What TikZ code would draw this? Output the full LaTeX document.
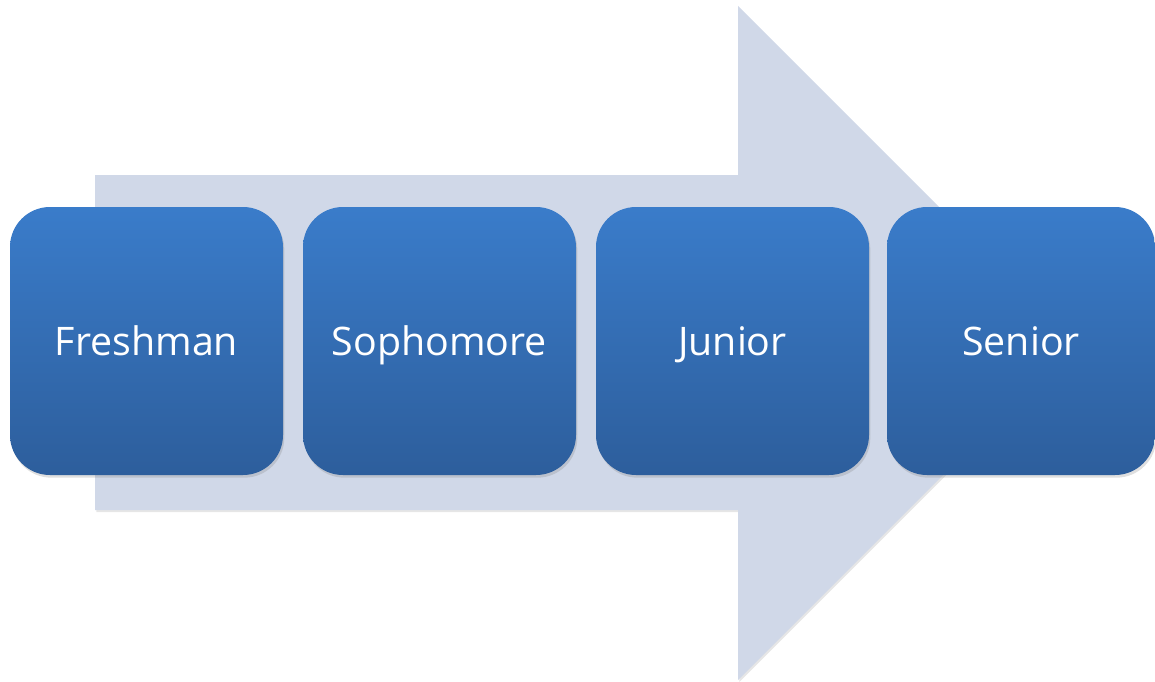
\documentclass[tikz,border=0pt]{standalone}
\usepackage{fontspec}
\setmainfont{Open Sans}
\usetikzlibrary{positioning,shadows}
\definecolor{arrowfill}{HTML}{D0D8E8}
\definecolor{stagetop}{HTML}{3A7CCA}
\definecolor{stagebottom}{HTML}{2D5E9C}
\tikzset{
    x=0.75pt,
    y=-0.75pt,
    stage/.style = {
        shape=rectangle,
        rounded corners=30pt,
        minimum height=201pt,
        minimum width=204.75pt,
        inner sep=0pt,
        top color=stagetop,
        bottom color=stagebottom,
        text=white,
        font=\fontsize{29.5}{32}\selectfont,
        text height=21pt,
        text depth=0pt,
        drop shadow={shadow xshift=1pt, shadow yshift=-2pt, opacity=0.25}
    },
    bigarrow/.style = {
        fill=arrowfill,
        drop shadow={shadow xshift=1pt, shadow yshift=-1.5pt, opacity=0.2}
    },
}
\begin{document}
\begin{tikzpicture}
    \useasboundingbox (0,0) rectangle (1155,681);
    \clip (0,0) rectangle (1155,681);

    % background arrow
    \path[bigarrow] (95,175) -- (738,175) -- (738,6) -- (1075,343)
        -- (738,680) -- (738,510) -- (95,510) -- cycle;

    \node[stage] (freshman) at (146.5,341) {Freshman};
    \node[stage] (sophomore) at (439.5,341) {Sophomore};
    \node[stage] (junior) at (732.5,341) {Junior};
    \node[stage, minimum width=201pt] (senior) at (1021,341) {Senior};

\end{tikzpicture}
\end{document}
